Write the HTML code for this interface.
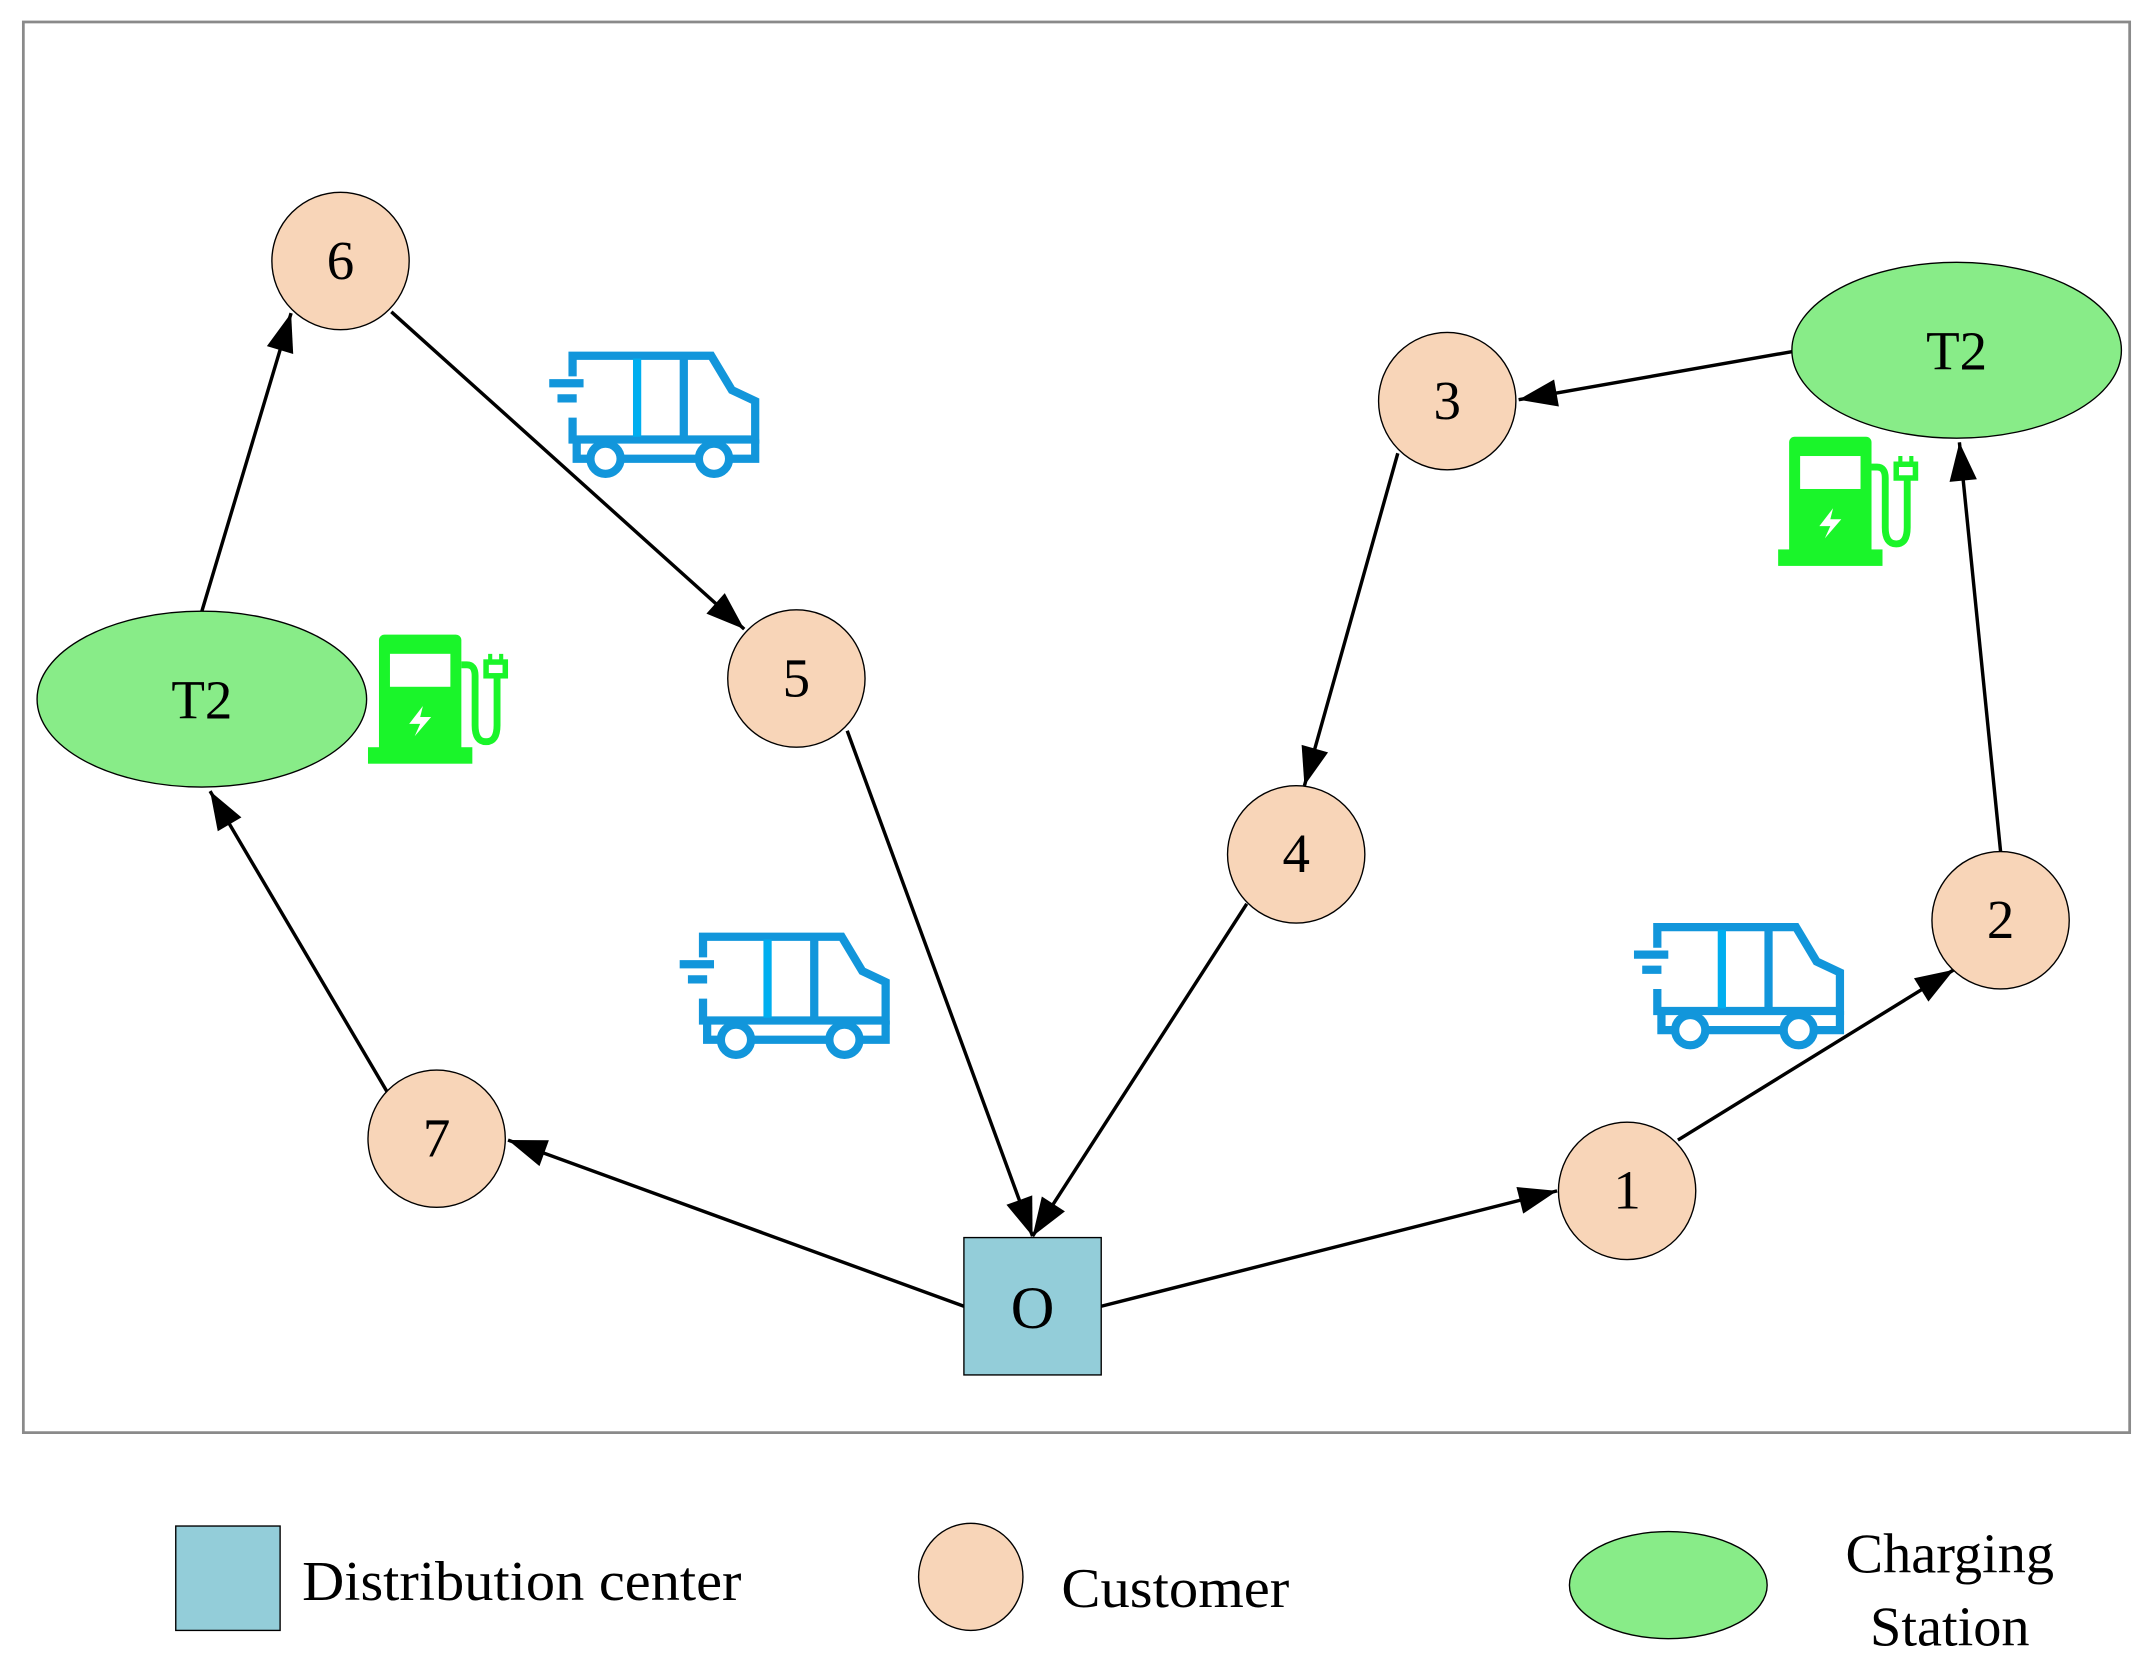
<!DOCTYPE html>
<html><head><meta charset="utf-8"><style>
html,body{margin:0;padding:0;background:#fff;}
svg{display:block;}
text{font-family:"Liberation Serif",serif;}
</style></head><body>
<svg width="2153" height="1673" viewBox="0 0 1568 1218" preserveAspectRatio="none" xmlns="http://www.w3.org/2000/svg">
<defs>
<g id="truck" fill="none" stroke="#1296DB" stroke-width="6">
<path d="M17,20 V5 H118 L133,30 L150,38 V66 H17 V50"/>
<path d="M0,25 H25 M6,36 H20" />
<path d="M98,5 V66"/>
<path d="M64,7 V64" stroke="#00AEEF"/>
<path d="M20,66 V80 H30 M52,80 H108 M132,80 H150 V66"/>
<circle cx="41" cy="80" r="11"/>
<circle cx="120" cy="80" r="11"/>
</g>
<g id="pump">
<rect x="8" y="0" width="60" height="88" rx="4" fill="#1AF52A"/>
<rect x="16" y="14" width="44" height="24" fill="#fff"/>
<rect x="0" y="82" width="76" height="12" fill="#1AF52A"/>
<path d="M40,52 L30,65 H38 L34,74 L46,60 H38 Z" fill="#fff"/>
<path d="M68,22 H72 Q78,22 78,30 V66 Q78,78 86,78 Q94,78 94,66 V30" fill="none" stroke="#1AF52A" stroke-width="5"/>
<rect x="86" y="20" width="14" height="10" fill="none" stroke="#1AF52A" stroke-width="4"/>
<path d="M89,14 V20 M97,14 V20" stroke="#1AF52A" stroke-width="3"/>
</g>
</defs>
<rect x="17" y="16" width="1534" height="1027" fill="none" stroke="#8a8a8a" stroke-width="2"/>

<g stroke="#000" stroke-width="2.5" fill="none">
<line x1="147" y1="445" x2="212" y2="228"/>
<line x1="285" y1="227" x2="542" y2="458"/>
<line x1="617" y1="532" x2="752" y2="900"/>
<line x1="908" y1="658" x2="752" y2="900"/>
<line x1="702" y1="951" x2="370" y2="830"/>
<line x1="282" y1="795" x2="153" y2="576"/>
<line x1="802" y1="951" x2="1134" y2="867"/>
<line x1="1222" y1="830" x2="1423" y2="706"/>
<line x1="1457" y1="620" x2="1427" y2="322"/>
<line x1="1305" y1="256" x2="1106" y2="291"/>
<line x1="1018" y1="330" x2="950" y2="572"/>
</g>
<g fill="#000">
<polygon points="0,0 -28,-10 -28,10" transform="translate(212,228) rotate(-73.3)"/>
<polygon points="0,0 -28,-10 -28,10" transform="translate(542,458) rotate(41.9)"/>
<polygon points="0,0 -28,-10 -28,10" transform="translate(752,900) rotate(69.9)"/>
<polygon points="0,0 -28,-10 -28,10" transform="translate(752,900) rotate(122.8)"/>
<polygon points="0,0 -28,-10 -28,10" transform="translate(370,830) rotate(200)"/>
<polygon points="0,0 -28,-10 -28,10" transform="translate(153,576) rotate(239.5)"/>
<polygon points="0,0 -28,-10 -28,10" transform="translate(1134,867) rotate(-14.2)"/>
<polygon points="0,0 -28,-10 -28,10" transform="translate(1423,706) rotate(-31.7)"/>
<polygon points="0,0 -28,-10 -28,10" transform="translate(1427,322) rotate(264.3)"/>
<polygon points="0,0 -28,-10 -28,10" transform="translate(1106,291) rotate(170)"/>
<polygon points="0,0 -28,-10 -28,10" transform="translate(950,572) rotate(105.7)"/>
</g>

<g stroke="#000" stroke-width="1">
<ellipse cx="147" cy="509" rx="120" ry="64" fill="#88EC88"/>
<ellipse cx="1425" cy="255" rx="120" ry="64" fill="#88EC88"/>
<g fill="#F8D5B8">
<circle cx="248" cy="190" r="50"/>
<circle cx="580" cy="494" r="50"/>
<circle cx="1054" cy="292" r="50"/>
<circle cx="944" cy="622" r="50"/>
<circle cx="1457" cy="670" r="50"/>
<circle cx="318" cy="829" r="50"/>
<circle cx="1185" cy="867" r="50"/>
</g>
<rect x="702" y="901" width="100" height="100" fill="#93CDD9"/>
</g>
<g font-size="40" text-anchor="middle" fill="#000">
<text x="248" y="203">6</text>
<text x="580" y="507">5</text>
<text x="1054" y="305">3</text>
<text x="944" y="635">4</text>
<text x="1457" y="683">2</text>
<text x="318" y="842">7</text>
<text x="1185" y="880">1</text>
<text x="147" y="523">T2</text>
<text x="1425" y="269">T2</text>
<text x="752" y="967" font-size="44">O</text>
</g>

<use href="#truck" x="400" y="254"/>
<use href="#truck" x="495" y="677"/>
<use href="#truck" x="1190" y="670"/>
<use href="#pump" x="268" y="462"/>
<use href="#pump" x="1295" y="318"/>

<rect x="128" y="1111" width="76" height="76" fill="#93CDD9" stroke="#000" stroke-width="1"/>
<text x="220" y="1165" font-size="41" textLength="320" lengthAdjust="spacingAndGlyphs">Distribution center</text>
<ellipse cx="707" cy="1148" rx="38" ry="39" fill="#F8D5B8" stroke="#000" stroke-width="1"/>
<text x="773" y="1170" font-size="41" textLength="166" lengthAdjust="spacingAndGlyphs">Customer</text>
<ellipse cx="1215" cy="1154" rx="72" ry="39" fill="#88EC88" stroke="#000" stroke-width="1"/>
<text x="1420" y="1145" font-size="41" text-anchor="middle">Charging</text>
<text x="1420" y="1198" font-size="41" text-anchor="middle">Station</text>
</svg>
</body></html>
